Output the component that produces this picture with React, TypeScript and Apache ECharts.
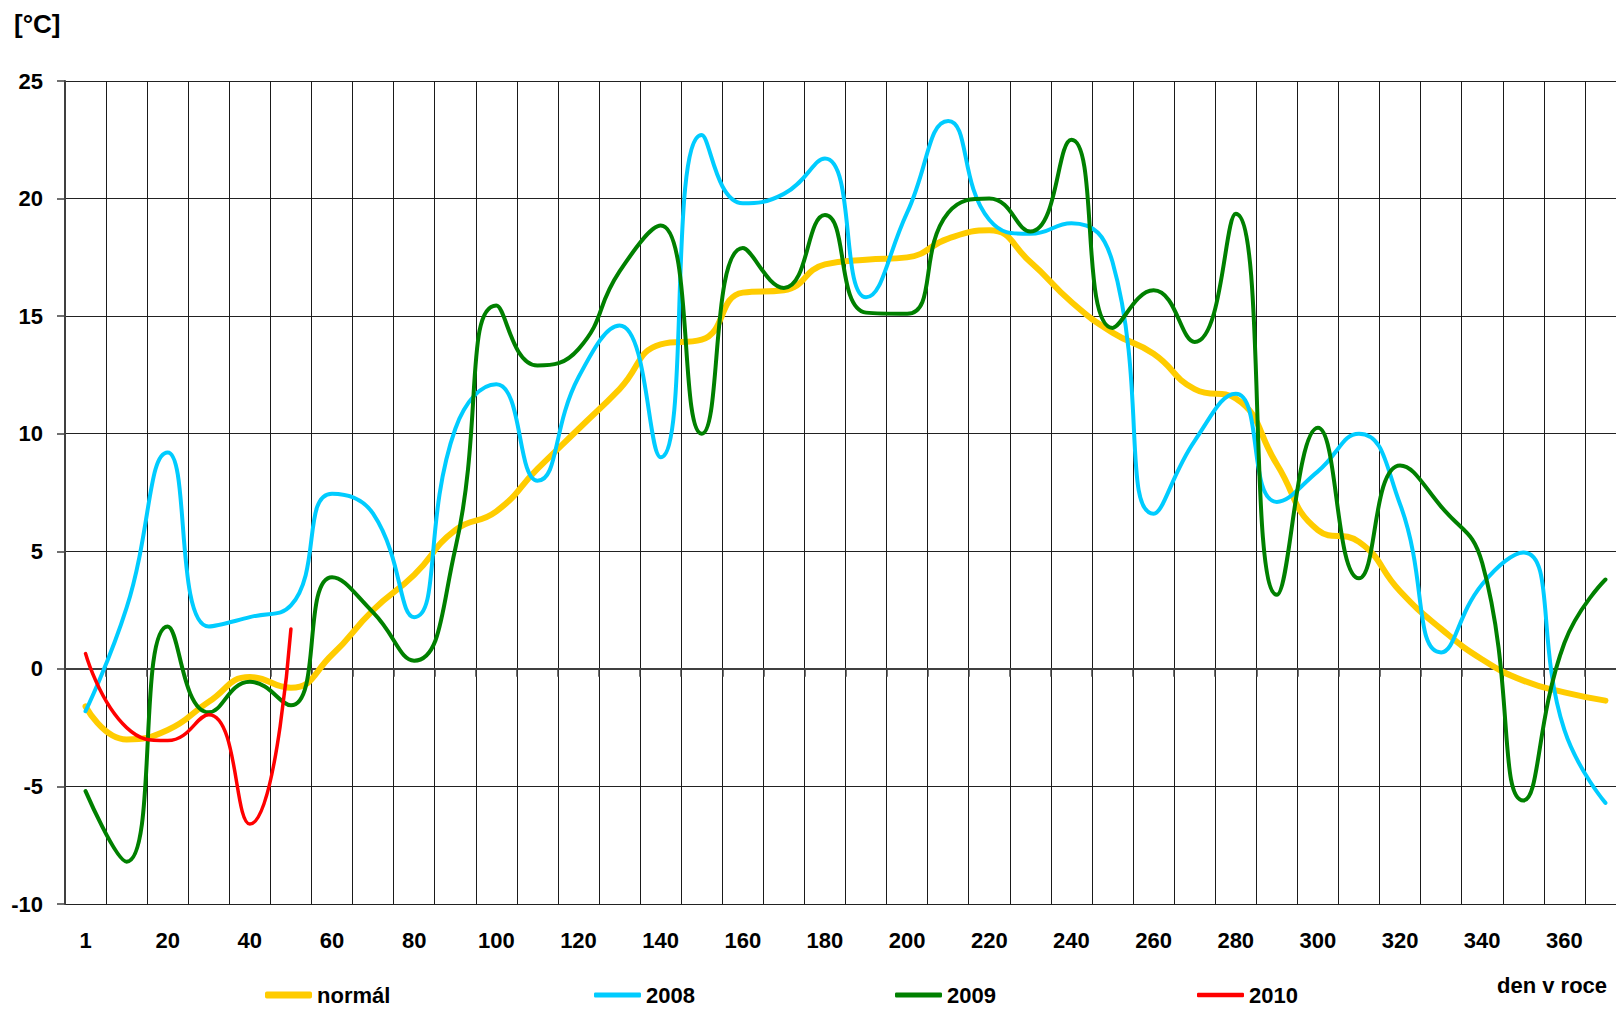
import React, { useEffect, useRef } from 'react';
import * as echarts from 'echarts';

const FONT = "'Liberation Sans', Arial, sans-serif";

const categories = [
  '1', '10', '20', '30', '40', '50', '60', '70', '80', '90',
  '100', '110', '120', '130', '140', '150', '160', '170', '180', '190',
  '200', '210', '220', '230', '240', '250', '260', '270', '280', '290',
  '300', '310', '320', '330', '340', '350', '360', '370',
];

const normal = [
  -1.6, -3.0, -2.6, -1.4, -0.35, -0.8, 0.6, 2.5, 4.0, 5.9,
  6.7, 8.5, 10.2, 11.9, 13.8, 14.0, 16.0, 16.1, 17.2, 17.4,
  17.5, 18.3, 18.65, 17.3, 15.6, 14.3, 13.4, 11.9, 11.5, 8.7,
  5.9, 5.4, 3.3, 1.7, 0.4, -0.5, -1.0, -1.35,
];

const y2008 = [
  -1.8, 2.6, 9.2, 1.8, 2.2, 2.7, 7.45, 6.6, 2.2, 10.2,
  12.1, 8.0, 12.4, 14.6, 9.0, 22.7, 19.8, 20.2, 21.7, 15.8,
  19.4, 23.3, 19.1, 18.5, 18.95, 17.3, 6.6, 9.7, 11.7, 7.1,
  8.4, 10.0, 7.0, 0.7, 3.6, 4.95, -2.6, -5.7,
];

const y2009 = [
  -5.2, -8.2, 1.8, -1.85, -0.55, -1.55, 3.9, 2.4, 0.35, 5.1,
  15.45, 12.9, 13.6, 16.9, 18.85, 10.0, 17.9, 16.2, 19.3, 15.15,
  15.1, 19.4, 20.0, 18.6, 22.5, 14.5, 16.1, 13.9, 19.35, 3.15,
  10.25, 3.85, 8.65, 6.9, 4.5, -5.6, 1.1, 3.8,
];

const y2010 = [0.65, -2.5, -3.05, -1.95, -6.6, 1.7];

const seriesNames = ['normál', '2008', '2009', '2010'];
const seriesColors = ['#FFCC00', '#00CCFF', '#008000', '#FF0000'];
const seriesWidths = [6, 4, 4, 3.5];
const seriesData = [normal, y2008, y2009, y2010];
const legendLefts = [265, 594, 895, 1197];

const labelStyle = {
  fontSize: 22,
  fontWeight: 'bold' as const,
  color: '#000',
  fontFamily: FONT,
};

export default function App() {
  const ref = useRef<HTMLDivElement>(null);

  useEffect(() => {
    if (!ref.current) return;
    const chart = echarts.init(ref.current, undefined, { renderer: 'svg' });
    const option: any = {
      animation: false,
      backgroundColor: '#ffffff',
      grid: {
        left: 65,
        right: -10,
        top: 81,
        bottom: 105,
        containLabel: false,
        outerBoundsMode: 'none',
      },
      xAxis: {
        type: 'category',
        data: categories,
        boundaryGap: true,
        axisLine: { show: true, lineStyle: { color: '#404040', width: 2 } },
        axisTick: { show: true, interval: 0, length: 8, lineStyle: { color: '#404040', width: 1.5 } },
        axisLabel: { ...labelStyle, interval: 1, margin: 25 },
        splitLine: { show: true, interval: 0, lineStyle: { color: '#1a1a1a', width: 1 } },
      },
      yAxis: {
        type: 'value',
        min: -10,
        max: 25,
        interval: 5,
        axisLine: { show: true, lineStyle: { color: '#404040', width: 2 } },
        axisTick: { show: true, length: 8, lineStyle: { color: '#404040', width: 1.5 } },
        axisLabel: { ...labelStyle, margin: 22 },
        splitLine: { show: true, lineStyle: { color: '#222', width: 1 } },
      },
      legend: seriesNames.map((name, i) => ({
        data: [name],
        left: legendLefts[i],
        top: 984,
        padding: 0,
        icon: 'roundRect',
        itemWidth: 47,
        itemHeight: seriesWidths[i] + 1,
        itemGap: 0,
        selectedMode: false,
        textStyle: { ...labelStyle },
      })),
      graphic: [
        {
          type: 'text',
          left: 14,
          top: 11,
          style: { text: '[°C]', fontSize: 26, fontWeight: 'bold', fill: '#000', fontFamily: FONT },
        },
        {
          type: 'text',
          left: 1497,
          top: 974,
          style: { text: 'den v roce', fontSize: 22, fontWeight: 'bold', fill: '#000', fontFamily: FONT },
        },
      ],
      series: seriesNames.map((name, i) => ({
        name,
        type: 'line',
        data: seriesData[i],
        smooth: 0.5,
        symbol: 'none',
        showSymbol: false,
        lineStyle: { color: seriesColors[i], width: seriesWidths[i], cap: 'round' },
        itemStyle: { color: seriesColors[i] },
        emphasis: { disabled: true },
        z: 2 + i,
      })),
    };
    chart.setOption(option);
    return () => chart.dispose();
  }, []);

  return (
    <div
      ref={ref}
      style={{ position: 'absolute', left: 0, top: 0, width: 1616, height: 1009, background: '#fff' }}
    />
  );
}
